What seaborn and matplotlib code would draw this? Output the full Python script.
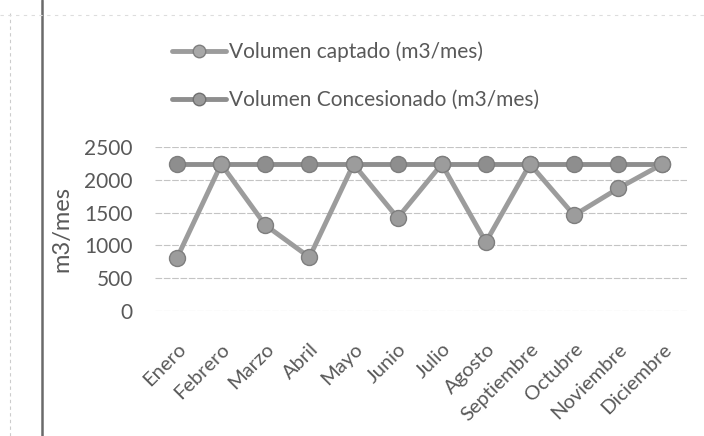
import matplotlib
matplotlib.use("Agg")
import matplotlib.pyplot as plt
import seaborn as sns
import pandas as pd
from matplotlib.lines import Line2D

meses = ["Enero", "Febrero", "Marzo", "Abril", "Mayo", "Junio", "Julio",
         "Agosto", "Septiembre", "Octubre", "Noviembre", "Diciembre"]
captado = [810, 2240, 1310, 820, 2240, 1420, 2240, 1050, 2240, 1460, 1870, 2240]
concesionado = [2240, 2240, 2240, 2240, 2240, 2240, 2240, 2240, 2240, 2240, 2240, 2240]
serie_captado = "Volumen captado (m3/mes)"
serie_conc = "Volumen Concesionado (m3/mes)"
yticks = [0, 500, 1000, 1500, 2000, 2500]

df = pd.DataFrame({
    "mes": list(range(len(meses))) * 2,
    "valor": concesionado + captado,
    "serie": [serie_conc] * len(meses) + [serie_captado] * len(meses),
})

sns.set_theme(style="white")
plt.rcParams['font.family'] = ['Lato', 'DejaVu Sans']
txt = "#595959"

fig = plt.figure(figsize=(7.04, 4.36), dpi=100)
ax = fig.add_axes([0.2202, 0.2867, 0.7557, 0.376])

palette = {serie_captado: "#9c9c9c", serie_conc: "#8e8e8e"}
sns.lineplot(data=df, x="mes", y="valor", hue="serie", palette=palette,
             hue_order=[serie_conc, serie_captado],
             marker="o", markersize=11.5, linewidth=3.5, markeredgecolor="#7e7e7e",
             markeredgewidth=1.0, ax=ax, legend=False)

ax.set_xlim(-0.5, 11.56)
ax.set_ylim(0, 2500)
ax.set_yticks(yticks)
ax.set_yticklabels([str(v) for v in yticks], fontsize=15, color=txt)
ax.set_xticks(range(len(meses)))
ax.set_xticklabels(meses, rotation=45, ha="right", rotation_mode="anchor",
                   fontsize=14.5, color=txt)
ax.tick_params(axis="y", length=0, pad=16)
ax.tick_params(axis="x", length=0, pad=21)
ax.set_xlabel("")
ax.set_ylabel("m3/mes", fontsize=17, color=txt)
ax.yaxis.set_label_coords(-0.155, 0.5)
ax.grid(axis="y", color="#c4c4c4", linewidth=0.8, linestyle=(0, (6, 1.5)))
for s in ax.spines.values():
    s.set_visible(False)

handles = [
    Line2D([0], [0], color="#9c9c9c", lw=3.5, marker="o", markersize=9,
           markeredgecolor="#7e7e7e", markerfacecolor="#a8a8a8"),
    Line2D([0], [0], color="#8e8e8e", lw=3.5, marker="o", markersize=9,
           markeredgecolor="#707070", markerfacecolor="#9a9a9a"),
]
fig.legend(handles, [serie_captado, serie_conc], loc="upper left",
           bbox_to_anchor=(0.244, 0.905), frameon=False, fontsize=15,
           handlelength=2.6, handletextpad=0.15, labelspacing=1.35,
           borderpad=0, borderaxespad=0, labelcolor=txt)

# document decorations: left border and faint guide lines
fig.add_artist(Line2D([0.06, 0.06], [0, 1], transform=fig.transFigure,
                      color="#6a6a6a", lw=1.8))
fig.add_artist(Line2D([0.014, 0.014], [0, 0.97], transform=fig.transFigure,
                      color="#cccccc", lw=0.8, linestyle=(0, (3, 3))))
fig.add_artist(Line2D([0.0, 1.0], [0.965, 0.965], transform=fig.transFigure,
                      color="#dddddd", lw=0.8, linestyle=(0, (3, 4))))

fig.savefig("out.png", dpi=100)
